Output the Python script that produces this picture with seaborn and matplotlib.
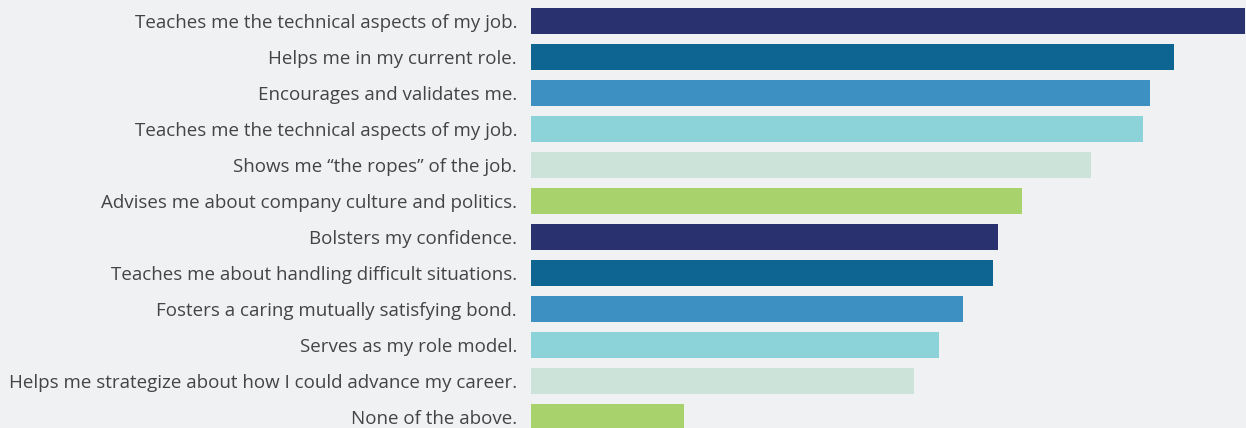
import pandas as pd
import matplotlib.pyplot as plt
import seaborn as sns

# Survey answers (percent of respondents), top to bottom
labels = [
    "Teaches me the technical aspects of my job.",
    "Helps me in my current role.",
    "Encourages and validates me.",
    "Teaches me the technical aspects of my job.",
    "Shows me \u201cthe ropes\u201d of the job.",
    "Advises me about company culture and politics.",
    "Bolsters my confidence.",
    "Teaches me about handling difficult situations.",
    "Fosters a caring mutually satisfying bond.",
    "Serves as my role model.",
    "Helps me strategize about how I could advance my career.",
    "None of the above.",
]
values = [70, 63, 60.7, 60, 54.9, 48.1, 45.8, 45.3, 42.4, 40, 37.5, 15]
colors = ["#29316F", "#0E6591", "#3D91C2", "#8BD3D8", "#CCE3D9", "#A8D26C"] * 2

bg = "#F0F1F3"
sns.set_style("white")
plt.rcParams["font.family"] = ["Open Sans", "DejaVu Sans"]

df = pd.DataFrame({"row": list(range(len(values))), "value": values})

fig = plt.figure(figsize=(12.46, 4.28), dpi=100, facecolor=bg)
ax = fig.add_axes([531 / 1246, 0, 715 / 1246, 1])
ax.set_facecolor(bg)

sns.barplot(data=df, x="value", y="row", hue="row", palette=colors,
            orient="h", width=26 / 36, legend=False, saturation=1,
            linewidth=0, ax=ax)

ax.set_xlim(0, 70 * 715 / 714)
ax.set_ylim((428 - 21) / 36, -21 / 36)
ax.set_yticks(range(len(labels)))
ax.set_yticklabels(labels, fontsize=13.5, color="#444444")
ax.tick_params(axis="y", length=0, pad=10)
ax.set_xticks([])
ax.set_xlabel("")
ax.set_ylabel("")
for s in ax.spines.values():
    s.set_visible(False)

fig.savefig("out.png", dpi=100, facecolor=bg)
